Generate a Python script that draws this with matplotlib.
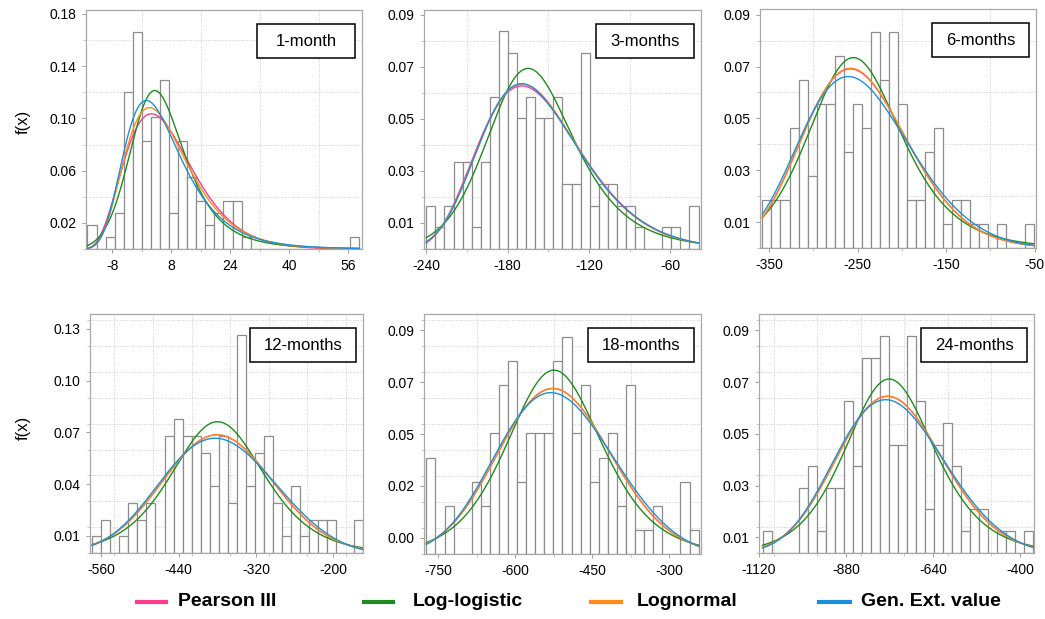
import math
import numpy as np
import matplotlib
matplotlib.use("Agg")
import matplotlib.pyplot as plt
from matplotlib.patches import Rectangle
from matplotlib.lines import Line2D
from matplotlib.ticker import MultipleLocator

plt.rcParams['font.family'] = ['Liberation Sans', 'DejaVu Sans']

# ---------------- data ----------------
panel_titles = ["1-month", "3-months", "6-months", "12-months", "18-months", "24-months"]

# histogram: first bin edge, bin width, bar heights f(x)
bin_start = [-14.7, -240.0, -357.5, -574.2, -773.3, -1110.2]
bin_width = [2.46, 6.697, 10.21, 14.02, 17.69, 24.87]

hist_1m = [0.0184, 0, 0.0092, 0.0277, 0.1199, 0.1660, 0.0830, 0.1014, 0.1291, 0.0277,
           0.0830, 0.0553, 0.0369, 0.0184, 0.0277, 0.0369, 0.0369, 0.0092, 0, 0,
           0, 0, 0, 0, 0, 0, 0, 0, 0, 0.0092]
hist_3m = [0.0167, 0.0084, 0.0167, 0.0335, 0.0335, 0.0084, 0.0335, 0.0586, 0.0837, 0.0753,
           0.0502, 0.0586, 0.0502, 0.0502, 0.0586, 0.0251, 0.0251, 0.0753, 0.0167, 0.0251,
           0.0251, 0.0167, 0.0167, 0.0084, 0, 0, 0.0084, 0.0084, 0, 0.0167]
hist_6m = [0.0186, 0.0186, 0.0186, 0.0464, 0.0650, 0.0278, 0.0557, 0.0557, 0.0742, 0.0371,
           0.0557, 0.0464, 0.0835, 0.0650, 0.0835, 0.0557, 0.0186, 0.0186, 0.0371, 0.0464,
           0.0093, 0.0186, 0.0186, 0.0093, 0.0093, 0, 0.0093, 0, 0, 0.0093]
hist_12m = [0.0097, 0.0194, 0, 0.0097, 0.0292, 0.0194, 0.0292, 0, 0.0680, 0.0778,
            0.0680, 0.0680, 0.0583, 0.0389, 0.0680, 0.0292, 0.1264, 0.0389, 0.0583, 0.0680,
            0.0292, 0.0097, 0.0389, 0.0097, 0.0194, 0.0194, 0.0194, 0, 0, 0.0194]
hist_18m = [0.0418, 0, 0.0209, 0, 0, 0.0314, 0.0209, 0.0523, 0.0732, 0.0837,
            0.0314, 0.0523, 0.0523, 0.0523, 0.0837, 0.0941, 0.0523, 0.0732, 0.0314, 0.0418,
            0.0523, 0.0209, 0.0732, 0.0105, 0.0105, 0.0209, 0, 0, 0.0314, 0.0105]
hist_24m = [0.0084, 0, 0, 0, 0.0251, 0.0335, 0.0084, 0.0251, 0.0251, 0.0587,
            0.0335, 0.0754, 0.0754, 0.0838, 0.0419, 0.0419, 0.0838, 0.0587, 0.0168, 0.0419,
            0.0503, 0.0335, 0.0084, 0.0168, 0.0168, 0, 0.0084, 0.0084, 0, 0.0084]
hists = [hist_1m, hist_3m, hist_6m, hist_12m, hist_18m, hist_24m]

# fitted distribution parameters, expressed as L-moments (l1, l2, t3) per panel
pe3_l1 = [7.0, -156.0, -247.0, -378.0, -520.0, -752.0]
pe3_l2 = [5.65, 22.5, 34.0, 48.3, 62.2, 82.4]
pe3_t3 = [0.14, 0.11, 0.06, 0.01, 0.02, 0.03]

glo_l1 = [6.8, -156.0, -247.0, -378.0, -520.0, -752.0]
glo_l2 = [5.45, 22.5, 35.5, 48.3, 62.2, 82.4]
glo_t3 = [0.17, 0.11, 0.06, 0.01, 0.02, 0.03]

gno_l1 = [7.0, -156.0, -247.0, -378.0, -520.0, -752.0]
gno_l2 = [5.7, 22.5, 34.0, 48.3, 62.2, 82.4]
gno_t3 = [0.17, 0.11, 0.06, 0.01, 0.02, 0.03]

gev_l1 = [6.6, -156.0, -247.0, -378.0, -520.0, -752.0]
gev_l2 = [5.75, 22.5, 35.2, 48.3, 62.2, 82.4]
gev_t3 = [0.20, 0.11, 0.06, 0.01, 0.02, 0.03]

dist_names = ["Pearson III", "Log-logistic", "Lognormal", "Gen. Ext. value"]
dist_colors = ["#ff3d8e", "#1f8a1f", "#ff8c1a", "#1e8fd5"]

xlims = [(-15.1, 59.8), (-241.7, -37.3), (-360.2, -48.5), (-577.8, -153.7), (-777.9, -237.9), (-1118.6, -361.5)]
xticks = [[-8, 8, 24, 40, 56], [-240, -180, -120, -60], [-350, -250, -150, -50],
          [-560, -440, -320, -200], [-750, -600, -450, -300], [-1120, -880, -640, -400]]
xgrid_step = [8, 30, 50, 60, 75, 120]
ylims = [(0, 0.183), (0, 0.0919), (0, 0.0922), (0, 0.1387), (0, 0.104), (0, 0.0923)]
yticks = [[0.02, 0.06, 0.10, 0.14, 0.18], [0.01, 0.03, 0.05, 0.07, 0.09], [0.01, 0.03, 0.05, 0.07, 0.09],
          [0.01, 0.04, 0.07, 0.10, 0.13], [0.007, 0.0295, 0.052, 0.0745, 0.097], [0.006, 0.026, 0.046, 0.066, 0.086]]
ytick_labels = [["0.02", "0.06", "0.10", "0.14", "0.18"], ["0.01", "0.03", "0.05", "0.07", "0.09"],
                ["0.01", "0.03", "0.05", "0.07", "0.09"], ["0.01", "0.04", "0.07", "0.10", "0.13"],
                ["0.00", "0.02", "0.05", "0.07", "0.09"], ["0.01", "0.03", "0.05", "0.07", "0.09"]]
ygrid_step = [0.02, 0.01, 0.01, 0.015, 0.01125, 0.01]


# ---------------- distribution pdfs (Hosking L-moment parameterisation) ----------------
def _y_transform(x, xi, alpha, k):
    if abs(k) < 1e-8:
        return (x - xi) / alpha, np.ones_like(x, dtype=bool)
    arg = 1 - k * (x - xi) / alpha
    ok = arg > 0
    y = np.where(ok, -np.log(np.where(ok, arg, 1.0)) / k, 0.0)
    return y, ok


def pdf_pe3(x, l1, l2, t3):
    if abs(t3) < 1e-6:
        s = l2 * math.sqrt(math.pi)
        return np.exp(-0.5 * ((x - l1) / s) ** 2) / (s * math.sqrt(2 * math.pi))
    a3 = abs(t3)
    if a3 < 1 / 3:
        T = 3 * math.pi * a3 * a3
        alpha = (1 + 0.2906 * T) / (T + 0.1882 * T * T + 0.0442 * T ** 3)
    else:
        T = 1 - a3
        alpha = (0.36067 * T - 0.59567 * T * T + 0.25361 * T ** 3) / (1 - 2.78861 * T + 2.56096 * T * T - 0.77045 * T ** 3)
    g = 2 / math.sqrt(alpha)
    sigma = l2 * math.sqrt(math.pi) * math.sqrt(alpha) * math.exp(math.lgamma(alpha) - math.lgamma(alpha + 0.5))
    beta = sigma * g / 2
    sgn = 1 if t3 > 0 else -1
    xi = l1 - sgn * 2 * sigma / g
    z = sgn * (x - xi) / beta
    out = np.zeros_like(x)
    m = z > 0
    out[m] = np.exp((alpha - 1) * np.log(z[m]) - z[m] - math.lgamma(alpha)) / beta
    return out


def pdf_glo(x, l1, l2, t3):
    k = -t3
    if abs(k) < 1e-8:
        alpha, xi = l2, l1
    else:
        alpha = l2 * math.sin(k * math.pi) / (k * math.pi)
        xi = l1 - alpha * (1 / k - math.pi / math.sin(k * math.pi))
    y, ok = _y_transform(x, xi, alpha, k)
    f = np.exp(-(1 - k) * y) / (alpha * (1 + np.exp(-y)) ** 2)
    return np.where(ok, f, 0.0)


def pdf_gno(x, l1, l2, t3):
    E0, E1, E2, E3 = 2.0466534, -3.6544371, 1.8396733, -0.20360244
    F1, F2, F3 = -2.0182173, 1.2420401, -0.21741801
    t2 = t3 * t3
    k = -t3 * (E0 + E1 * t2 + E2 * t2 ** 2 + E3 * t2 ** 3) / (1 + F1 * t2 + F2 * t2 ** 2 + F3 * t2 ** 3)
    if abs(k) < 1e-8:
        alpha, xi = l2 * math.sqrt(math.pi), l1
    else:
        alpha = l2 * k * math.exp(-k * k / 2) / math.erf(k / 2)
        xi = l1 - alpha * (1 - math.exp(k * k / 2)) / k
    y, ok = _y_transform(x, xi, alpha, k)
    f = np.exp(k * y - y * y / 2) / (alpha * math.sqrt(2 * math.pi))
    return np.where(ok, f, 0.0)


def pdf_gev(x, l1, l2, t3):
    z = 2 / (3 + t3) - math.log(2) / math.log(3)
    k = 7.8590 * z + 2.9554 * z * z
    if abs(k) < 1e-8:
        alpha = l2 / math.log(2)
        xi = l1 - 0.5772157 * alpha
    else:
        g = math.gamma(1 + k)
        alpha = l2 * k / ((1 - 2 ** (-k)) * g)
        xi = l1 - alpha * (1 - g) / k
    y, ok = _y_transform(x, xi, alpha, k)
    f = np.exp(-(1 - k) * y - np.exp(-y)) / alpha
    return np.where(ok, f, 0.0)


dists = [(pdf_pe3, pe3_l1, pe3_l2, pe3_t3),
         (pdf_glo, glo_l1, glo_l2, glo_t3),
         (pdf_gno, gno_l1, gno_l2, gno_t3),
         (pdf_gev, gev_l1, gev_l2, gev_t3)]

# ---------------- layout (pixels) ----------------
W, H = 1045, 619
axes_px = [(86, 362, 10, 249), (424, 701, 10, 249), (760, 1036, 9, 248),
           (90, 363, 314, 553), (424, 701, 314, 554), (759, 1034, 314, 553)]
box_w_px = [98, 98, 97, 106, 106, 106]

fig = plt.figure(figsize=(W / 100, H / 100), dpi=100)
fig.patch.set_facecolor("white")

for i in range(6):
    l, r, t, b = axes_px[i]
    ax = fig.add_axes([l / W, 1 - b / H, (r - l) / W, (b - t) / H])
    heights = np.array(hists[i])
    edges = bin_start[i] + bin_width[i] * np.arange(len(heights) + 1)
    ax.bar(edges[:-1], heights, width=bin_width[i], align="edge", facecolor="white",
           edgecolor="#8c8c8c", linewidth=0.9, zorder=2)
    area = heights.sum() * bin_width[i]
    xs = np.linspace(edges[0], edges[-1], 500)
    for (f, L1, L2, T3), c in zip(dists, dist_colors):
        ys = area * f(xs, L1[i], L2[i], T3[i])
        ax.plot(xs, ys, color=c, linewidth=1.0, zorder=3)

    ax.set_xlim(*xlims[i])
    ax.set_ylim(*ylims[i])
    ax.set_xticks(xticks[i])
    ax.set_xticklabels([str(v) for v in xticks[i]])
    ax.set_yticks(yticks[i])
    ax.set_yticklabels(ytick_labels[i])
    ax.xaxis.set_minor_locator(MultipleLocator(xgrid_step[i]))
    ax.yaxis.set_minor_locator(MultipleLocator(ygrid_step[i]))
    ax.grid(which="minor", color="#cdcdcd", linestyle=(0, (1, 1.5)), linewidth=0.7, zorder=0)
    ax.set_axisbelow(True)
    ax.tick_params(which="major", length=3, width=0.6, color="#909090", labelsize=10, pad=4)
    ax.tick_params(which="minor", length=2, width=0.5, color="#b0b0b0")
    for s in ax.spines.values():
        s.set_color("#a8a8a8")
        s.set_linewidth(0.9)

    # label box
    bw, bh = box_w_px[i], 34
    aw, ah = (r - l), (b - t)
    x0 = 1 - (7 + bw) / aw
    y0 = 1 - (14 + bh) / ah
    ax.add_patch(Rectangle((x0, y0), bw / aw, bh / ah, transform=ax.transAxes,
                           facecolor="white", edgecolor="black", linewidth=1.1, zorder=5))
    ax.text(x0 + bw / aw / 2, y0 + bh / ah / 2, panel_titles[i], transform=ax.transAxes,
            ha="center", va="center", fontsize=12, zorder=6)

fig.text(23 / W, 1 - 122 / H, "f(x)", rotation=90, ha="center", va="center", fontsize=12)
fig.text(23 / W, 1 - 428 / H, "f(x)", rotation=90, ha="center", va="center", fontsize=12)

# legend
leg_line_x = [(137, 166), (364, 393), (591, 621), (819, 850)]
leg_text_x = [178, 413, 637, 861]
leg_y = 602
for (xa, xb), tx, name, c in zip(leg_line_x, leg_text_x, dist_names, dist_colors):
    fig.add_artist(Line2D([xa / W, xb / W], [1 - leg_y / H, 1 - leg_y / H], color=c,
                          linewidth=3, transform=fig.transFigure))
    fig.text(tx / W, 1 - leg_y / H, name, ha="left", va="center", fontsize=14, fontweight="bold")

fig.savefig("out.png", dpi=100)
